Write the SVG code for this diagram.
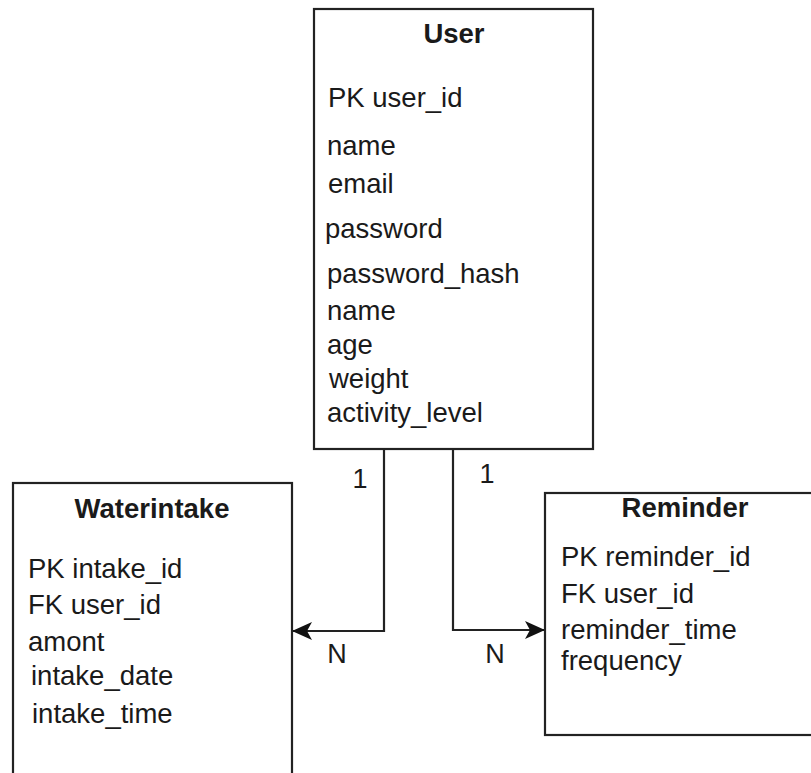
<svg xmlns="http://www.w3.org/2000/svg" width="811" height="773" viewBox="0 0 811 773">
  <style>
    .box { fill: #ffffff; stroke: #222222; stroke-width: 2.2; }
    .title { font-family: "Liberation Sans", Arial, sans-serif; font-size: 27.5px; font-weight: bold; fill: #1a1a1a; text-anchor: middle; }
    .attr { font-family: "Liberation Sans", Arial, sans-serif; font-size: 27.5px; fill: #1a1a1a; }
    .card { font-family: "Liberation Sans", Arial, sans-serif; font-size: 27px; fill: #1a1a1a; text-anchor: middle; }
    .edge { fill: none; stroke: #222222; stroke-width: 2.2; }
  </style>
  <defs>
    <marker id="arrow" viewBox="0 0 20 18" refX="19" refY="9" markerWidth="20" markerHeight="18" markerUnits="userSpaceOnUse" orient="auto">
      <path d="M0,0 L20,9 L0,18 L5,9 Z" fill="#111111"/>
    </marker>
  </defs>
  <rect width="811" height="773" fill="#ffffff"/>

  <g id="connectors">
    <path class="edge" d="M384,449 V631 H293" marker-end="url(#arrow)"/>
    <path class="edge" d="M453,449 V630 H544" marker-end="url(#arrow)"/>
    <text class="card" x="360" y="488">1</text>
    <text class="card" x="487" y="483">1</text>
    <text class="card" x="337" y="663">N</text>
    <text class="card" x="495" y="663">N</text>
  </g>

  <g id="user">
    <rect class="box" x="314" y="9" width="279" height="440"/>
    <text class="title" x="454" y="43">User</text>
    <text class="attr" x="328" y="107">PK user_id</text>
    <text class="attr" x="327" y="155">name</text>
    <text class="attr" x="328" y="193">email</text>
    <text class="attr" x="325" y="238">password</text>
    <text class="attr" x="327" y="283">password_hash</text>
    <text class="attr" x="327" y="320">name</text>
    <text class="attr" x="327" y="354">age</text>
    <text class="attr" x="329" y="388">weight</text>
    <text class="attr" x="327" y="422">activity_level</text>
  </g>

  <g id="waterintake">
    <rect class="box" x="13" y="483" width="279" height="310"/>
    <text class="title" x="152" y="518">Waterintake</text>
    <text class="attr" x="28" y="578">PK intake_id</text>
    <text class="attr" x="28" y="614">FK user_id</text>
    <text class="attr" x="28" y="651">amont</text>
    <text class="attr" x="31" y="685">intake_date</text>
    <text class="attr" x="32" y="723">intake_time</text>
  </g>

  <g id="reminder">
    <rect class="box" x="545" y="493" width="275" height="242"/>
    <text class="title" x="685" y="517">Reminder</text>
    <text class="attr" x="561" y="566">PK reminder_id</text>
    <text class="attr" x="561" y="603">FK user_id</text>
    <text class="attr" x="561" y="639">reminder_time</text>
    <text class="attr" x="561" y="670">frequency</text>
  </g>
</svg>
